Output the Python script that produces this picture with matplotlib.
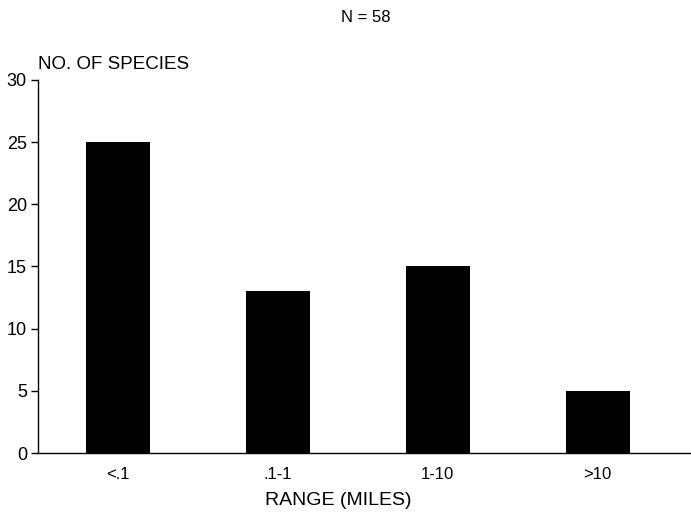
import matplotlib
matplotlib.use('Agg')
import matplotlib.pyplot as plt

# range classes and number of species in each
ranges = ['<.1', '.1-1', '1-10', '>10']
species = [25, 13, 15, 5]
yticks = [0, 5, 10, 15, 20, 25, 30]

plt.rcParams['font.family'] = ['Liberation Sans', 'DejaVu Sans']

fig = plt.figure(figsize=(6.91, 5.12), dpi=100)
ax = fig.add_axes([0.055, 0.115, 0.944, 0.729])

pos = list(range(len(ranges)))
ax.bar(pos, species, width=0.4, color='black')

ax.set_xlim(-0.5, 3.58)
ax.set_ylim(0, 30)
ax.set_xticks(pos)
ax.set_xticklabels(ranges, fontsize=12)
ax.set_yticks(yticks)
ax.tick_params(axis='y', labelsize=13, length=5, width=1, direction='out', pad=3)
ax.tick_params(axis='x', length=0, pad=10)

for s in ['top', 'right']:
    ax.spines[s].set_visible(False)
ax.spines['left'].set_linewidth(1)
ax.spines['bottom'].set_linewidth(1)

fig.text(0.49, 0.023, 'RANGE (MILES)', fontsize=14, ha='center', va='center')
ax.text(0.0, 1.018, 'NO. OF SPECIES', transform=ax.transAxes, fontsize=13.5,
        ha='left', va='bottom')
fig.text(0.530, 0.965, 'N = 58', fontsize=12, ha='center', va='center')

fig.savefig('out.png', dpi=100)
